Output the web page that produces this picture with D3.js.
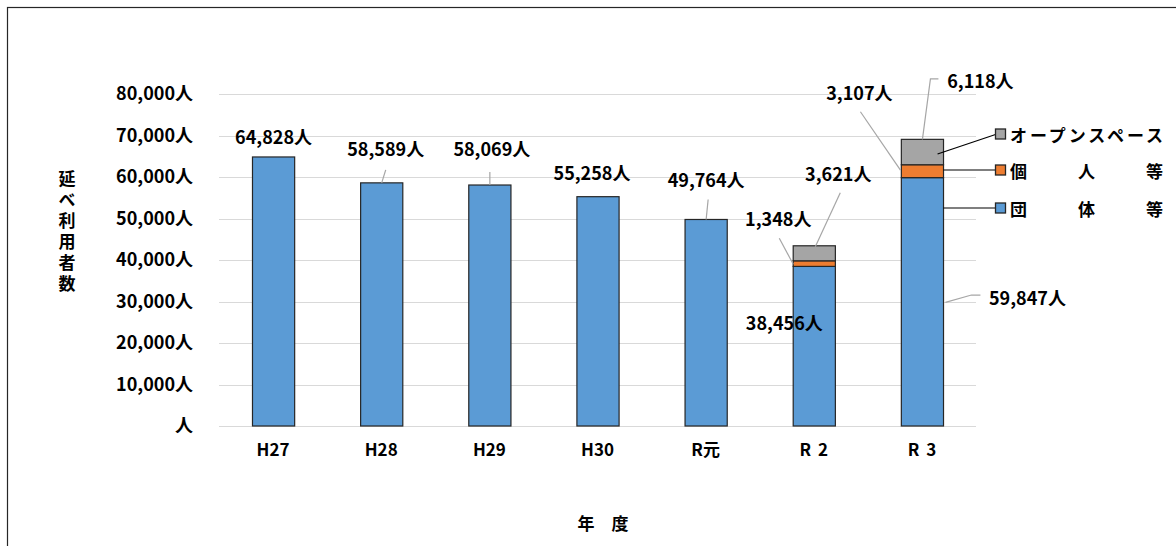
<!DOCTYPE html>
<html><head><meta charset="utf-8">
<script src="https://cdn.jsdelivr.net/npm/d3@7"></script>
<style>
html,body{margin:0;padding:0;background:#fff;}
svg text{font-family:"Noto Sans CJK JP","Noto Sans",sans-serif;font-weight:bold;fill:#000;}
</style></head>
<body><svg id="c" width="1176" height="546"></svg>
<script>
// ---- data ----
const categories = ["H27","H28","H29","H30","R元","R 2","R 3"];
const groupValues = [64828,58589,58069,55258,49764,38456,59847];      // 団体等
const individualValues = [0,0,0,0,0,1348,3107];                      // 個人等
const openSpaceValues = [0,0,0,0,0,3621,6118];                       // オープンスペース
const seriesNames = ["団体等","個人等","オープンスペース"];
const yTicks = [0,10000,20000,30000,40000,50000,60000,70000,80000];
const yTitle = "延べ利用者数";
const xTitle = "年　度";

// ---- layout (positions only) ----
const colors = ["#5b9bd5","#ed7d31","#a5a5a5"];
// label offsets relative to (bar center, segment top)
const labelLayout = [
  {c:0,s:0,dx:0,dy:-21,lead:null},
  {c:1,s:0,dx:4,dy:-35,lead:[[4,-13],[0,0]]},
  {c:2,s:0,dx:2,dy:-37,lead:[[0,-13],[0,0]]},
  {c:3,s:0,dx:-6,dy:-25,lead:null},
  {c:4,s:0,dx:0,dy:-40,lead:[[2,-20],[0,0]]},
  {c:5,s:0,dx:-30,dy:56,lead:null},
  {c:5,s:1,dx:-36,dy:-43,lead:[[-35,-22.5],[-21,3.5]]},
  {c:5,s:2,dx:24,dy:-73,lead:[[26,-53],[1,1]]},
  {c:6,s:0,dx:105,dy:119,lead:[[23,124.7],[49,117.4],[58,117.4]]},
  {c:6,s:1,dx:-63,dy:-73,lead:[[-62,-53],[-22,5.3]]},
  {c:6,s:2,dx:58,dy:-59.4,lead:[[16,-60.4],[8,-60.4],[0,0]]}
];

const svg = d3.select("#c");
const x = d3.scaleBand().domain(categories).range([219,976]).paddingInner(0.61).paddingOuter(0.305);
const y = d3.scaleLinear().domain([0,80000]).range([426,94]);
const fmt = d3.format(",");

// frame
svg.append("rect").attr("x",7.5).attr("y",7.5).attr("width",1300).attr("height",700)
  .attr("fill","none").attr("stroke","#262626").attr("stroke-width",1.2);

// gridlines
svg.append("g").selectAll("line").data(yTicks).join("line")
  .attr("x1",219).attr("x2",976).attr("y1",d=>Math.round(y(d))+0.5).attr("y2",d=>Math.round(y(d))+0.5)
  .attr("stroke","#d9d9d9").attr("stroke-width",1);

// y axis labels
const yAxis = d3.axisLeft(y).tickValues(yTicks).tickSize(0).tickPadding(0)
  .tickFormat(d=> d===0 ? "人" : fmt(d)+"人");
const yg = svg.append("g").attr("transform","translate(193,0)").call(yAxis);
yg.select(".domain").remove();
yg.selectAll("text").style("font-size","18px").attr("font-family",null);

// x axis labels
const xAxis = d3.axisBottom(x).tickSize(0).tickPadding(0);
const xg = svg.append("g").attr("transform","translate(0,444)").call(xAxis);
xg.select(".domain").remove();
xg.selectAll("text").style("font-size","17px").style("word-spacing","3px").attr("font-family",null);

// stacked data
const stackInput = categories.map((c,i)=>({cat:c, s0:groupValues[i], s1:individualValues[i], s2:openSpaceValues[i]}));
const stacked = d3.stack().keys(["s0","s1","s2"])(stackInput);

const bars = svg.append("g");
stacked.forEach((layer,si)=>{
  bars.selectAll(null).data(layer.filter(d=>d[1]-d[0]>0)).join("rect")
    .attr("x",d=>x(d.data.cat)+0.5).attr("width",x.bandwidth())
    .attr("y",d=>y(d[1])).attr("height",d=>y(d[0])-y(d[1]))
    .attr("fill",colors[si]).attr("stroke","#262626").attr("stroke-width",1.2);
});

// data labels with leader lines
const line = d3.line();
labelLayout.forEach(L=>{
  const seg = stacked[L.s][L.c];
  const cx = x(categories[L.c]) + x.bandwidth()/2 + 0.5;
  const top = y(seg[1]);
  const val = seg[1]-seg[0];
  if(L.lead){
    svg.append("path").attr("d", line(L.lead.map(p=>[cx+p[0], top+p[1]])))
      .attr("fill","none").attr("stroke","#a6a6a6").attr("stroke-width",1.2);
  }
  svg.append("text").attr("x",cx+L.dx).attr("y",top+L.dy)
    .attr("text-anchor","middle").attr("dominant-baseline","central")
    .style("font-size","18px").text(fmt(val)+"人");
});

// legend (with connector lines from R3 bar)
const r3 = categories.length-1;
const r3x = x(categories[r3]);
const legendRows = [
  {s:2, ly:134, from:[r3x+36.7, y((stacked[2][r3][0]+stacked[2][r3][1])/2)+2]},
  {s:1, ly:170, from:[r3x+x.bandwidth()+0.5, 170]},
  {s:0, ly:208, from:[r3x+x.bandwidth()+0.5, 208]}
];
legendRows.forEach(r=>{
  svg.append("line").attr("x1",r.from[0]).attr("y1",r.from[1]).attr("x2",997).attr("y2",r.ly)
    .attr("stroke","#000").attr("stroke-width",1.2);
  svg.append("rect").attr("x",995.5).attr("y",r.ly-5).attr("width",10).attr("height",10)
    .attr("fill",colors[r.s]).attr("stroke","#262626").attr("stroke-width",1.3);
  svg.append("text").attr("x",1010).attr("y",r.ly).attr("dominant-baseline","central")
    .attr("textLength",153).attr("lengthAdjust","spacing")
    .style("font-size","17px").text(seriesNames[r.s]);
});

// axis titles
svg.append("text").attr("x",67).attr("y",233).attr("text-anchor","middle")
  .style("writing-mode","vertical-rl").style("text-orientation","upright")
  .style("letter-spacing","4px").style("font-size","17px").text(yTitle);
svg.append("text").attr("x",603).attr("y",522).attr("text-anchor","middle")
  .attr("dominant-baseline","central").style("font-size","17px").text(xTitle);
</script></body></html>
